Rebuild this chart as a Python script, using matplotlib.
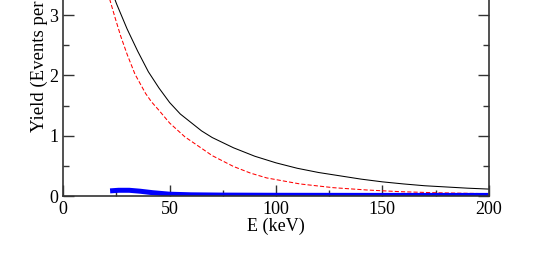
import numpy as np
import matplotlib.pyplot as plt
from matplotlib.ticker import MultipleLocator

plt.rcParams['font.family'] = ['Liberation Serif', 'DejaVu Serif']

# total yield (black)
e_total = [20, 25, 30, 35, 40, 45, 50, 55, 60, 65, 70, 80, 90, 100,
           110, 120, 130, 140, 150, 160, 170, 180, 190, 200]
y_total = [3.67, 3.19, 2.77, 2.40, 2.06, 1.79, 1.55, 1.36, 1.22, 1.08, 0.97, 0.80, 0.66, 0.55,
           0.46, 0.39, 0.335, 0.28, 0.235, 0.20, 0.17, 0.15, 0.13, 0.115]

# red dashed
e_red = [19.5, 21.5, 24.4, 27, 30, 33.7, 38.7, 41.5, 45, 50, 57.2, 63, 70, 80, 88,
         95.6, 111.3, 127, 142.6, 158.3, 174, 194.4, 200]
y_red = [3.62, 3.30, 2.95, 2.65, 2.35, 2.02, 1.70, 1.56, 1.42, 1.21, 0.98, 0.84, 0.67, 0.49, 0.38,
         0.30, 0.20, 0.138, 0.10, 0.072, 0.055, 0.042, 0.038]

# blue thick
e_blue = [22, 26, 31, 36, 42, 50, 60, 75, 100, 150, 200]
y_blue = [0.085, 0.095, 0.095, 0.08, 0.055, 0.03, 0.02, 0.015, 0.012, 0.01, 0.01]

fig = plt.figure(figsize=(5.5, 2.59), dpi=100)
ax = fig.add_axes([0.1151, 0.2432, 0.7734, 0.9313])

ax.plot(e_total, y_total, color='black', lw=0.75)
ax.plot(e_red, y_red, color='red', lw=0.75, ls=(0, (4, 2)))
ax.plot(e_blue, y_blue, color='blue', lw=3.6, solid_capstyle='butt')

ax.set_xlim(0, 200)
ax.set_ylim(0, 4)
ax.xaxis.set_major_locator(MultipleLocator(50))
ax.xaxis.set_minor_locator(MultipleLocator(25))
ax.yaxis.set_major_locator(MultipleLocator(1))
ax.yaxis.set_minor_locator(MultipleLocator(0.5))
ax.tick_params(which='both', direction='in', top=True, right=True,
               labelsize=13, color='#333333')
ax.tick_params(which='major', length=8, width=1)
ax.tick_params(which='minor', length=4, width=1)
for s in ax.spines.values():
    s.set_color('#333333')
    s.set_linewidth(1.2)

ax.set_xlabel("E (keV)", fontsize=13, labelpad=0)
lbl = ax.set_ylabel("Yield (Events per keV)", fontsize=13.5, ha='left')
ax.yaxis.set_label_coords(-0.037, 0.265)

plt.savefig('out.png', dpi=100)
